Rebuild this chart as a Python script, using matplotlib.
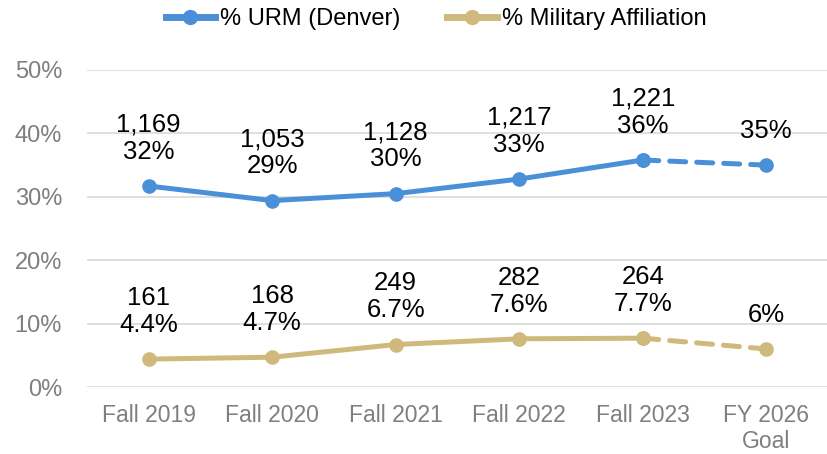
import matplotlib
matplotlib.use("Agg")
import matplotlib.pyplot as plt
from matplotlib.lines import Line2D

categories = ["Fall 2019", "Fall 2020", "Fall 2021", "Fall 2022", "Fall 2023", "FY 2026\nGoal"]
urm_values = [31.7, 29.4, 30.5, 32.8, 35.8, 35.0]
urm_labels = ["1,169\n32%", "1,053\n29%", "1,128\n30%", "1,217\n33%", "1,221\n36%", "35%"]
mil_values = [4.4, 4.7, 6.7, 7.6, 7.7, 6.0]
mil_labels = ["161\n4.4%", "168\n4.7%", "249\n6.7%", "282\n7.6%", "264\n7.7%", "6%"]
yticks = [0, 10, 20, 30, 40, 50]
ytick_labels = ["0%", "10%", "20%", "30%", "40%", "50%"]

plt.rcParams['font.family'] = ['Liberation Sans', 'DejaVu Sans']

blue = "#4A90D9"
gold = "#CFB97C"
W, H = 828, 454
fig = plt.figure(figsize=(W / 100, H / 100), dpi=100)
ax = fig.add_axes([87 / W, (H - 387) / H, (828 - 87) / W, 317 / H])

x = list(range(len(categories)))
lw = 3.6
ms = 9.5
for vals, labels, col in [(urm_values, urm_labels, blue), (mil_values, mil_labels, gold)]:
    ax.plot(x[:5], vals[:5], color=col, lw=lw, marker='o', ms=ms, clip_on=False,
            solid_capstyle='round', zorder=3)
    ax.plot(x[4:], vals[4:], color=col, lw=lw, ls=(0, (3.2, 2.2)), marker='o', ms=ms,
            clip_on=False, dash_capstyle='round', zorder=3)
    for xi, v, lab in zip(x, vals, labels):
        ax.annotate(lab, (xi, v), xytext=(0, 16), textcoords='offset points',
                    ha='center', va='bottom', multialignment='center',
                    fontsize=18.5, color='black', linespacing=1.15)

ax.set_xlim(-0.5, 5.5)
ax.set_ylim(0, 50)
ax.set_yticks(yticks)
ax.set_yticklabels(ytick_labels)
ax.set_xticks(x)
ax.set_xticklabels(categories)
ax.grid(axis='y', color='#D9D9D9', lw=1.2)
ax.set_axisbelow(True)
for s in ax.spines.values():
    s.set_visible(False)
ax.tick_params(axis='y', length=0, pad=18, labelsize=17, labelcolor='#7F7F7F')
ax.tick_params(axis='x', length=0, pad=12, labelsize=16.5, labelcolor='#7F7F7F')

handles = [Line2D([], [], color=blue, lw=5, marker='o', ms=10),
           Line2D([], [], color=gold, lw=5, marker='o', ms=10)]
fig.legend(handles, ["% URM (Denver)", "% Military Affiliation"], loc='center',
           bbox_to_anchor=(436 / W, 1 - 19 / H), ncol=2, frameon=False, fontsize=17,
           handlelength=2.1, handletextpad=0.2, columnspacing=2.0)

fig.savefig("out.png", dpi=100)
